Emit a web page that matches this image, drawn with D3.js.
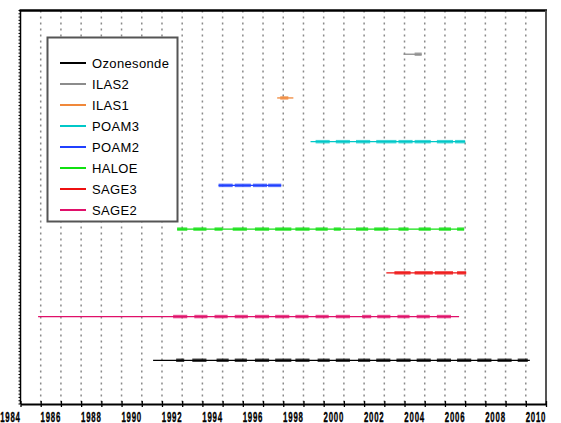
<!DOCTYPE html>
<html><head><meta charset="utf-8">
<script src="https://cdn.jsdelivr.net/npm/d3@7"></script>
<style>body{margin:0;background:#fff}svg{display:block}</style>
</head><body>
<script>
// ---- data ----
const instruments = ["Ozonesonde","ILAS2","ILAS1","POAM3","POAM2","HALOE","SAGE3","SAGE2"];
const colors = ["#000000","#8c8c8c","#f0883a","#00c8c8","#2040ff","#10e010","#ee1010","#e0106a"];
const rowIndex = [1,8,7,6,5,4,3,2];
// overall span (start, end year) of each record
const spans = [
  [1990.56, 2009.2],
  [2002.95, 2003.85],
  [1996.7, 1997.5],
  [1998.35, 2006.0],
  [1993.8, 1996.9],
  [1991.75, 2005.95],
  [2002.1, 2006.05],
  [1984.87, 2005.7]
];
// periods of dense measurements (thick segments)
const dense = [
  [[1991.7,1992.1],[1992.5,1993.2],[1993.7,1994.3],[1994.6,1995.2],[1995.6,1996.3],[1996.6,1997.4],[1997.6,1998.3],[1998.7,1999.3],[1999.6,2000.3],[2000.7,2001.3],[2001.6,2002.3],[2002.6,2003.3],[2003.6,2004.3],[2004.6,2005.3],[2005.6,2006.3],[2006.6,2007.3],[2007.6,2008.3],[2008.6,2009.1]],
  [[2003.5,2003.85]],
  [[1996.85,1997.25]],
  [[1998.6,1999.3],[1999.6,2000.3],[2000.6,2001.3],[2001.6,2002.6],[2002.7,2003.4],[2003.5,2004.3],[2004.6,2005.4],[2005.5,2006.0]],
  [[1993.8,1994.5],[1994.6,1995.4],[1995.5,1996.2],[1996.25,1996.9]],
  [[1991.75,1992.25],[1992.55,1993.2],[1993.6,1994.0],[1994.5,1995.2],[1995.6,1996.3],[1996.6,1997.4],[1997.6,1998.3],[1998.6,1999.2],[1999.5,1999.85],[2000.6,2001.2],[2001.5,2002.2],[2002.7,2003.2],[2003.7,2004.3],[2004.7,2005.3],[2005.6,2005.95]],
  [[2002.5,2003.3],[2003.5,2004.4],[2004.5,2005.4],[2005.6,2006.05]],
  [[1991.55,1992.25],[1992.6,1993.25],[1993.6,1994.25],[1994.6,1995.25],[1995.6,1996.3],[1996.6,1997.3],[1997.6,1998.25],[1998.6,1999.25],[1999.6,2000.3],[2000.9,2001.35],[2001.65,2002.3],[2002.65,2003.25],[2003.6,2004.25],[2004.6,2005.3]]
];
const tickYears = d3.range(1984, 2011, 2);

// ---- layout ----
const W = 561, H = 423;
const M = {left:20.5, right:15, top:10.5, bottom:19};
const x = d3.scaleLinear().domain([1984, 2010]).range([M.left, W - M.right]);
const y = d3.scaleLinear().domain([0, 9]).range([H - M.bottom, M.top]);

const svg = d3.select("body").append("svg").attr("width", W).attr("height", H);

// vertical dotted grid
svg.append("g").selectAll("line").data(d3.range(1985, 2010)).join("line")
  .attr("x1", d => x(d)).attr("x2", d => x(d))
  .attr("y1", y(9)).attr("y2", y(0))
  .attr("stroke", "#8a8a8a").attr("stroke-width", 1.5).attr("stroke-dasharray", "2,4");

// series
const g = svg.append("g");
instruments.forEach((name, i) => {
  const yy = y(rowIndex[i]);
  g.append("line").attr("x1", x(spans[i][0])).attr("x2", x(spans[i][1]))
    .attr("y1", yy).attr("y2", yy).attr("stroke", colors[i]).attr("stroke-width", 1.3);
  g.append("g").selectAll("line").data(dense[i]).join("line")
    .attr("x1", d => x(d[0])).attr("x2", d => x(d[1]))
    .attr("y1", yy).attr("y2", yy)
    .attr("stroke", colors[i]).attr("stroke-width", 3.5).attr("stroke-opacity", 0.75);
});

// frame
svg.append("line").attr("x1", x(1984)-1).attr("x2", x(2010)+1).attr("y1", y(9)).attr("y2", y(9))
  .attr("stroke", "#000").attr("stroke-width", 2.5);
svg.append("line").attr("x1", x(2010)).attr("x2", x(2010)).attr("y1", y(9)).attr("y2", y(0))
  .attr("stroke", "#555").attr("stroke-width", 2);
svg.append("line").attr("x1", x(1984)).attr("x2", x(1984)).attr("y1", y(9)).attr("y2", y(0))
  .attr("stroke", "#000").attr("stroke-width", 1.5);
// left minor ticks
svg.append("g").selectAll("line").data(d3.range(0, 9.001, 0.075)).join("line")
  .attr("x1", x(1984)-2).attr("x2", x(1984)).attr("y1", d => y(d)).attr("y2", d => y(d))
  .attr("stroke", "#000").attr("stroke-width", 1);

// bottom axis
const xAxis = d3.axisBottom(x).tickValues(d3.range(1984, 2011, 1)).tickSize(0).tickFormat("");
const ax = svg.append("g").attr("transform", `translate(0,${y(0)})`).call(xAxis);
ax.select(".domain").attr("stroke", "#000").attr("stroke-width", 2);
ax.selectAll(".tick line").attr("y1", -3).attr("y2", 3).attr("stroke", "#000").attr("stroke-width", 1.3);
svg.append("g").selectAll("text").data(tickYears).join("text")
  .attr("transform", d => `translate(${x(d) + 0.2},${H - 1.5}) scale(0.56,1)`)
  .attr("text-anchor", "end")
  .attr("font-family", "Liberation Sans, Arial, sans-serif").attr("font-weight", "bold")
  .attr("font-size", 14).attr("letter-spacing", 1.4)
  .attr("fill", "#000").attr("stroke", "#000").attr("stroke-width", 0.35)
  .text(d => d);

// legend
const lg = svg.append("g");
lg.append("rect").attr("x", 47.5).attr("y", 37.5).attr("width", 130).attr("height", 184)
  .attr("fill", "#fff").attr("stroke", "#555").attr("stroke-width", 2);
instruments.forEach((name, i) => {
  const ly = 63 + i * 21;
  lg.append("line").attr("x1", 60).attr("x2", 86).attr("y1", ly).attr("y2", ly)
    .attr("stroke", colors[i]).attr("stroke-width", 2);
  lg.append("text").attr("x", 92).attr("y", ly + 4.6)
    .attr("font-family", "Liberation Sans, Arial, sans-serif").attr("font-size", 13)
    .attr("letter-spacing", 0.35).attr("fill", "#000").text(name);
});
</script>
</body></html>
